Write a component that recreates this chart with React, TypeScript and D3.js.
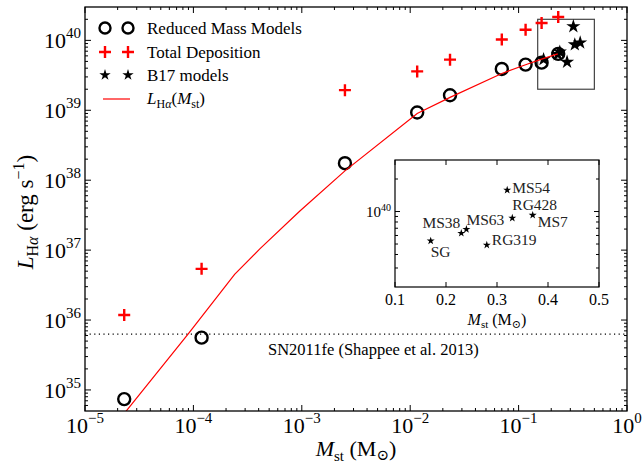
import React, { useEffect, useRef } from 'react';
import * as d3 from 'd3';

// Reduced mass models (stripped mass in Msun, L_Halpha in erg/s)
const reducedMass = [2.3e-5, 1.19e-4, 2.5e-3, 1.16e-2, 2.33e-2, 7.0e-2, 0.116, 0.163, 0.232];
const reducedLum = [7.4e34, 5.6e35, 1.75e38, 9.3e38, 1.64e39, 3.9e39, 4.5e39, 4.8e39, 6.4e39];
// Total deposition, same masses
const totalLum = [1.18e36, 5.4e36, 1.94e39, 3.6e39, 5.3e39, 1.03e40, 1.42e40, 1.77e40, 2.16e40];
// B17 models
const b17Names = ['SG', 'MS38', 'MS63', 'RG319', 'MS54', 'RG428', 'MS7'];
const b17Mass = [0.17, 0.23, 0.24, 0.28, 0.32, 0.33, 0.37];
const b17Lum = [5.35e39, 6.3e39, 6.85e39, 4.9e39, 1.58e40, 8.7e39, 9.25e39];
// L_Halpha(M_st) curve
const curveMass = [2.3e-5, 9.0e-5, 2.4e-4, 4.1e-4, 9.6e-4, 2.5e-3, 1.16e-2, 2.33e-2, 7.0e-2, 0.116, 0.163, 0.23];
const curveLum = [4.6e34, 6.4e35, 4.5e36, 1.04e37, 3.63e37, 1.36e38, 9.0e38, 1.53e39, 3.36e39, 4.47e39, 5.4e39, 6.4e39];
const shappeeLimit = 6.3e35;
const zoomBox = { x: [0.15, 0.5], y: [2e39, 2e40] };

const xTickExp = [-5, -4, -3, -2, -1, 0];
const yTickExp = [35, 36, 37, 38, 39, 40];
const insetXTicks = [0.1, 0.2, 0.3, 0.4, 0.5];
const insetYTickExp = [40];

// label placement for the inset names (dx, dy, anchor)
const labelPos: Record<string, [number, number, string]> = {
  SG: [0, 16, 'start'],
  MS38: [-1, -5, 'end'],
  MS63: [0, -4, 'start'],
  RG319: [5, 0, 'start'],
  MS54: [5, 3, 'start'],
  RG428: [0, -8, 'start'],
  MS7: [5, 12, 'start'],
};

const FONT = '"Liberation Serif", "DejaVu Serif", serif';

const App = () => {
  const svgRef = useRef<SVGSVGElement>(null);
  const width = 642;
  const height = 463;

  useEffect(() => {
    const svg = d3.select(svgRef.current);
    svg.selectAll('*').remove();
    svg.attr('font-family', FONT);

    const x = d3.scaleLog().domain([1e-5, 1]).range([85, 627]);
    const y = d3.scaleLog().domain([5e34, 3e40]).range([411, 7]);
    const [x0, x1] = x.range();
    const [y0, y1] = y.range();

    const g = svg.append('g');

    // minor + major ticks, all four sides, inward
    const xMinor: number[] = [];
    for (let e = -5; e < 0; e++) for (let k = 2; k <= 9; k++) xMinor.push(k * Math.pow(10, e));
    const yMinor: number[] = [];
    for (let e = 34; e <= 40; e++) for (let k = 2; k <= 9; k++) {
      const v = k * Math.pow(10, e);
      if (v > 5e34 && v < 3e40) yMinor.push(v);
    }
    const tk = g.append('g').attr('stroke', '#000').attr('stroke-width', 1);
    xMinor.forEach(v => {
      tk.append('line').attr('x1', x(v)).attr('x2', x(v)).attr('y1', y0).attr('y2', y0 - 3);
      tk.append('line').attr('x1', x(v)).attr('x2', x(v)).attr('y1', y1).attr('y2', y1 + 3);
    });
    xTickExp.forEach(e => {
      const v = Math.pow(10, e);
      tk.append('line').attr('x1', x(v)).attr('x2', x(v)).attr('y1', y0).attr('y2', y0 - 6);
      tk.append('line').attr('x1', x(v)).attr('x2', x(v)).attr('y1', y1).attr('y2', y1 + 6);
    });
    yMinor.forEach(v => {
      tk.append('line').attr('y1', y(v)).attr('y2', y(v)).attr('x1', x0).attr('x2', x0 + 3);
      tk.append('line').attr('y1', y(v)).attr('y2', y(v)).attr('x1', x1).attr('x2', x1 - 3);
    });
    yTickExp.forEach(e => {
      const v = Math.pow(10, e);
      tk.append('line').attr('y1', y(v)).attr('y2', y(v)).attr('x1', x0).attr('x2', x0 + 6);
      tk.append('line').attr('y1', y(v)).attr('y2', y(v)).attr('x1', x1).attr('x2', x1 - 6);
    });

    // tick labels
    xTickExp.forEach(e => {
      const t = g.append('text').attr('x', x(Math.pow(10, e))).attr('y', 433)
        .attr('text-anchor', 'middle').attr('font-size', 22).attr('fill', '#000');
      t.append('tspan').text('10');
      t.append('tspan').attr('dy', -10).attr('font-size', 15).text(e === 0 ? '0' : `−${-e}`);
    });
    yTickExp.forEach(e => {
      const t = g.append('text').attr('x', 81).attr('y', y(Math.pow(10, e)) + 8)
        .attr('text-anchor', 'end').attr('font-size', 22).attr('fill', '#000');
      t.append('tspan').text('10');
      t.append('tspan').attr('dy', -10).attr('font-size', 15).text(`${e}`);
    });

    // axis labels
    const xl = g.append('text').attr('x', (x0 + x1) / 2).attr('y', 456)
      .attr('text-anchor', 'middle').attr('font-size', 22);
    xl.append('tspan').attr('font-style', 'italic').text('M');
    xl.append('tspan').attr('font-size', 15).attr('dy', 5).text('st');
    xl.append('tspan').attr('dy', -5).text(' (M');
    xl.append('tspan').attr('font-size', 15).attr('dy', 4).text('⊙');
    xl.append('tspan').attr('dy', -4).text(')');

    const yl = g.append('text').attr('transform', `translate(33,${(y0 + y1) / 2 + 3}) rotate(-90)`)
      .attr('text-anchor', 'middle').attr('font-size', 23);
    yl.append('tspan').attr('font-style', 'italic').text('L');
    yl.append('tspan').attr('font-size', 16).attr('dy', 5).text('H');
    yl.append('tspan').attr('font-size', 16).attr('font-style', 'italic').text('α');
    yl.append('tspan').attr('dy', -5).text(' (erg s');
    yl.append('tspan').attr('font-size', 16).attr('dy', -9).text('−1');
    yl.append('tspan').attr('dy', 9).text(')');

    // Shappee et al. limit
    g.append('line').attr('x1', x0).attr('x2', x1)
      .attr('y1', y(shappeeLimit)).attr('y2', y(shappeeLimit))
      .attr('stroke', '#000').attr('stroke-width', 1.2).attr('stroke-dasharray', '1.2,3.4');
    g.append('text').attr('x', 268).attr('y', 355).attr('font-size', 16.5)
      .text('SN2011fe (Shappee et al. 2013)');

    // clip for data
    svg.append('defs').append('clipPath').attr('id', 'plotclip').append('rect')
      .attr('x', x0).attr('y', y1).attr('width', x1 - x0).attr('height', y0 - y1);
    const data = g.append('g').attr('clip-path', 'url(#plotclip)');

    // zoom box
    data.append('rect')
      .attr('x', x(zoomBox.x[0])).attr('y', y(zoomBox.y[1]))
      .attr('width', x(zoomBox.x[1]) - x(zoomBox.x[0]))
      .attr('height', y(zoomBox.y[0]) - y(zoomBox.y[1]))
      .attr('fill', 'none').attr('stroke', '#444').attr('stroke-width', 1.2);

    const plus = (sz: number) => `M${-sz},0H${sz}M0,${-sz}V${sz}`;

    data.selectAll('.rm').data(reducedMass).enter().append('circle')
      .attr('cx', d => x(d)).attr('cy', (d, i) => y(reducedLum[i])).attr('r', 6)
      .attr('fill', 'none').attr('stroke', '#000').attr('stroke-width', 2.4);

    data.selectAll('.td').data(reducedMass).enter().append('path')
      .attr('transform', (d, i) => `translate(${x(d)},${y(totalLum[i])})`)
      .attr('d', plus(6)).attr('stroke', '#ff0000').attr('stroke-width', 2.4).attr('fill', 'none');

    const starBig = d3.symbol().type(d3.symbolStar).size(62)();
    data.selectAll('.b17').data(b17Mass).enter().append('path')
      .attr('transform', (d, i) => `translate(${x(d)},${y(b17Lum[i])})`)
      .attr('d', starBig).attr('fill', '#000');

    const line = d3.line<number>().x(d => x(d)).y((d, i) => y(curveLum[i]));
    data.append('path').datum(curveMass).attr('d', line)
      .attr('fill', 'none').attr('stroke', '#ff0000').attr('stroke-width', 1.2);

    // frame
    g.append('rect').attr('x', x0).attr('y', y1).attr('width', x1 - x0).attr('height', y0 - y1)
      .attr('fill', 'none').attr('stroke', '#000').attr('stroke-width', 1.3);

    // legend
    const rows = [28, 52, 75, 99];
    const lx = [105, 128];
    const legend = g.append('g');
    lx.forEach(px => {
      legend.append('circle').attr('cx', px).attr('cy', rows[0]).attr('r', 5.5)
        .attr('fill', 'none').attr('stroke', '#000').attr('stroke-width', 2.4);
      legend.append('path').attr('transform', `translate(${px},${rows[1]})`).attr('d', plus(6))
        .attr('stroke', '#ff0000').attr('stroke-width', 2.4);
      legend.append('path').attr('transform', `translate(${px},${rows[2]})`)
        .attr('d', d3.symbol().type(d3.symbolStar).size(40)()).attr('fill', '#000');
    });
    legend.append('line').attr('x1', 103).attr('x2', 130).attr('y1', rows[3]).attr('y2', rows[3])
      .attr('stroke', '#ff0000').attr('stroke-width', 1.2);
    const lt = ['Reduced Mass Models', 'Total Deposition', 'B17 models'];
    lt.forEach((s, i) => {
      legend.append('text').attr('x', 147).attr('y', rows[i] + 6).attr('font-size', 17).text(s);
    });
    const l4 = legend.append('text').attr('x', 147).attr('y', rows[3] + 5).attr('font-size', 17);
    l4.append('tspan').attr('font-style', 'italic').text('L');
    l4.append('tspan').attr('font-size', 12).attr('dy', 4).text('H');
    l4.append('tspan').attr('font-size', 12).attr('font-style', 'italic').text('α');
    l4.append('tspan').attr('dy', -4).text('(');
    l4.append('tspan').attr('font-style', 'italic').text('M');
    l4.append('tspan').attr('font-size', 12).attr('dy', 4).text('st');
    l4.append('tspan').attr('dy', -4).text(')');

    // inset
    const ix = d3.scaleLinear().domain([0.1, 0.5]).range([395, 599]);
    const iy = d3.scaleLog().domain([2e39, 3e40]).range([287, 160]);
    const inset = svg.append('g');
    inset.append('rect').attr('x', 395).attr('y', 160).attr('width', 204).attr('height', 127)
      .attr('fill', '#fff').attr('stroke', '#000').attr('stroke-width', 1.2);
    const it = inset.append('g').attr('stroke', '#000').attr('stroke-width', 1);
    insetXTicks.forEach(v => {
      it.append('line').attr('x1', ix(v)).attr('x2', ix(v)).attr('y1', 287).attr('y2', 282);
      it.append('line').attr('x1', ix(v)).attr('x2', ix(v)).attr('y1', 160).attr('y2', 165);
    });
    const iyMinor: number[] = [];
    for (let e = 39; e <= 40; e++) for (let k = 2; k <= 9; k++) {
      const v = k * Math.pow(10, e);
      if (v > 2e39 && v < 3e40) iyMinor.push(v);
    }
    iyMinor.forEach(v => {
      it.append('line').attr('y1', iy(v)).attr('y2', iy(v)).attr('x1', 395).attr('x2', 398);
      it.append('line').attr('y1', iy(v)).attr('y2', iy(v)).attr('x1', 599).attr('x2', 596);
    });
    insetYTickExp.forEach(e => {
      const v = Math.pow(10, e);
      it.append('line').attr('y1', iy(v)).attr('y2', iy(v)).attr('x1', 395).attr('x2', 400);
      it.append('line').attr('y1', iy(v)).attr('y2', iy(v)).attr('x1', 599).attr('x2', 594);
      const t = inset.append('text').attr('x', 391).attr('y', iy(v) + 5)
        .attr('text-anchor', 'end').attr('font-size', 15);
      t.append('tspan').text('10');
      t.append('tspan').attr('dy', -6).attr('font-size', 10).text(`${e}`);
    });
    insetXTicks.forEach(v => {
      inset.append('text').attr('x', ix(v)).attr('y', 305).attr('text-anchor', 'middle')
        .attr('font-size', 16).text(v.toFixed(1));
    });
    const ixl = inset.append('text').attr('x', 497).attr('y', 325).attr('text-anchor', 'middle')
      .attr('font-size', 16);
    ixl.append('tspan').attr('font-style', 'italic').text('M');
    ixl.append('tspan').attr('font-size', 11).attr('dy', 3).text('st');
    ixl.append('tspan').attr('dy', -3).text(' (M');
    ixl.append('tspan').attr('font-size', 11).attr('dy', 3).text('⊙');
    ixl.append('tspan').attr('dy', -3).text(')');

    const starSmall = d3.symbol().type(d3.symbolStar).size(20)();
    b17Mass.forEach((m, i) => {
      const px = ix(m);
      const py = iy(b17Lum[i]);
      inset.append('path').attr('transform', `translate(${px},${py})`).attr('d', starSmall).attr('fill', '#000');
      const [dx, dy, anchor] = labelPos[b17Names[i]];
      inset.append('text').attr('x', px + dx).attr('y', py + dy).attr('text-anchor', anchor)
        .attr('font-size', 15.5).attr('fill', '#222').text(b17Names[i]);
    });
  }, []);

  return (
    <div style={{ width, height, position: 'absolute', left: 0, top: 0, background: '#fff' }}>
      <svg ref={svgRef} width={width} height={height} style={{ display: 'block' }} />
    </div>
  );
};

export default App;
